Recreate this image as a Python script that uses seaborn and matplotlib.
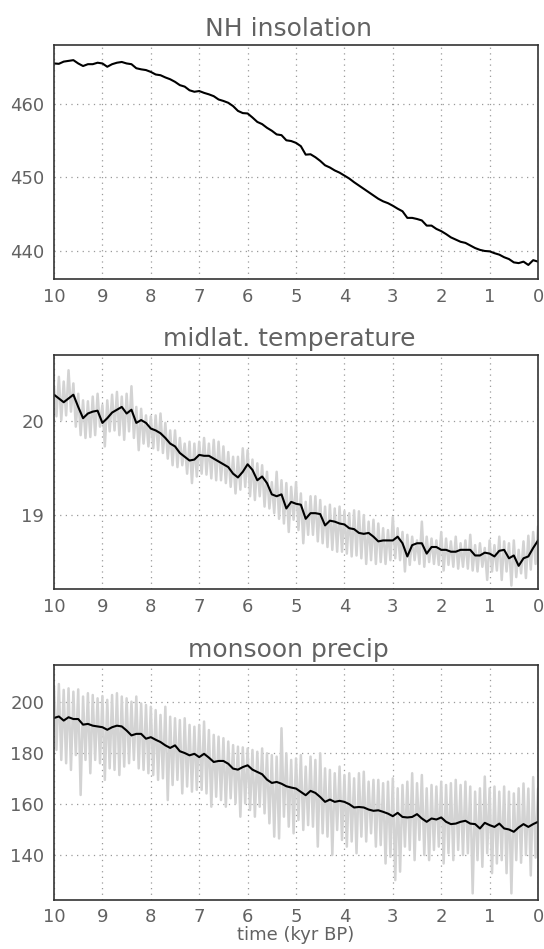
import matplotlib
matplotlib.use('Agg')
import matplotlib.pyplot as plt
import numpy as np
import pandas as pd
import seaborn as sns

# time axis (kyr BP), 0.1 kyr steps for the smoothed curves
time_kyr = np.round(np.arange(10.0, -0.05, -0.1), 2)

insolation = [
    465.45, 465.4, 465.7, 465.8, 465.9, 465.45, 465.1, 465.35, 465.35, 465.55,
    465.45, 465.0, 465.35, 465.55, 465.65, 465.45, 465.35, 464.8, 464.65, 464.55,
    464.3, 463.95, 463.85, 463.55, 463.3, 462.95, 462.5, 462.3, 461.8, 461.6,
    461.7, 461.45, 461.25, 461.0, 460.55, 460.35, 460.1, 459.65, 459.0, 458.7,
    458.65, 458.1, 457.5, 457.2, 456.7, 456.3, 455.8, 455.7, 455.0, 454.9,
    454.65, 454.2, 453.05, 453.1, 452.7, 452.2, 451.6, 451.3, 450.9, 450.6,
    450.2, 449.8, 449.3, 448.85, 448.4, 447.95, 447.5, 447.05, 446.7, 446.45,
    446.1, 445.7, 445.35, 444.45, 444.45, 444.3, 444.1, 443.4, 443.4, 442.95,
    442.65, 442.25, 441.8, 441.5, 441.2, 441.05, 440.7, 440.35, 440.1, 439.95,
    439.9, 439.65, 439.45, 439.1, 438.85, 438.4, 438.3, 438.5, 438.05, 438.7,
    438.5,
]

temp_smooth = [
    20.28, 20.24, 20.20, 20.24, 20.28, 20.15, 20.03, 20.08, 20.10, 20.11,
    19.98, 20.03, 20.09, 20.12, 20.15, 20.08, 20.12, 19.98, 20.01, 19.98,
    19.92, 19.90, 19.87, 19.82, 19.76, 19.73, 19.66, 19.62, 19.58, 19.59,
    19.64, 19.63, 19.63, 19.60, 19.57, 19.54, 19.51, 19.44, 19.40, 19.46,
    19.54, 19.48, 19.37, 19.41, 19.34, 19.22, 19.20, 19.22, 19.07, 19.14,
    19.12, 19.11, 18.96, 19.02, 19.02, 19.01, 18.89, 18.94, 18.93, 18.91,
    18.90, 18.86, 18.85, 18.81, 18.80, 18.81, 18.77, 18.72, 18.73, 18.73,
    18.73, 18.77, 18.70, 18.56, 18.68, 18.70, 18.70, 18.59, 18.66, 18.66,
    18.63, 18.63, 18.61, 18.61, 18.63, 18.63, 18.63, 18.57, 18.57, 18.60,
    18.59, 18.56, 18.62, 18.63, 18.54, 18.57, 18.46, 18.54, 18.56, 18.65,
    18.73,
]

# raw (unsmoothed) temperature: peaks at 10.0, 9.9, ... and troughs at 9.95, 9.85, ...
temp_raw_hi = [
    20.37, 20.47, 20.42, 20.54, 20.40, 20.29, 20.22, 20.21, 20.26, 20.29,
    20.17, 20.22, 20.28, 20.31, 20.26, 20.29, 20.37, 20.15, 20.13, 20.06,
    20.05, 20.06, 20.08, 19.98, 19.90, 19.90, 19.82, 19.76, 19.78, 19.76,
    19.78, 19.82, 19.76, 19.80, 19.78, 19.73, 19.67, 19.62, 19.62, 19.71,
    19.69, 19.59, 19.55, 19.53, 19.46, 19.35, 19.46, 19.37, 19.34, 19.30,
    19.35, 19.23, 19.14, 19.20, 19.20, 19.16, 19.09, 19.11, 19.07, 19.09,
    19.04, 19.02, 19.05, 19.04, 19.00, 18.93, 18.95, 18.91, 18.86, 18.84,
    18.98, 18.86, 18.82, 18.79, 18.77, 18.73, 18.93, 18.77, 18.75, 18.73,
    18.82, 18.75, 18.72, 18.77, 18.70, 18.73, 18.79, 18.68, 18.70, 18.65,
    18.73, 18.68, 18.77, 18.72, 18.70, 18.73, 18.63, 18.72, 18.78, 18.82,
    18.88,
]
temp_raw_lo = [
    20.05, 20.01, 20.06, 20.10, 19.94, 19.85, 19.82, 19.83, 19.85, 19.94,
    19.73, 19.89, 19.90, 19.85, 19.80, 19.89, 19.82, 19.69, 19.76, 19.73,
    19.71, 19.69, 19.66, 19.60, 19.53, 19.51, 19.53, 19.44, 19.34, 19.41,
    19.44, 19.43, 19.39, 19.37, 19.37, 19.34, 19.30, 19.23, 19.27, 19.30,
    19.20, 19.16, 19.20, 19.09, 19.07, 19.02, 18.96, 18.91, 18.82, 18.95,
    18.84, 18.70, 18.79, 18.79, 18.72, 18.70, 18.66, 18.63, 18.61, 18.61,
    18.59, 18.56, 18.57, 18.54, 18.48, 18.52, 18.48, 18.50, 18.48, 18.52,
    18.54, 18.52, 18.40, 18.47, 18.52, 18.48, 18.45, 18.50, 18.48, 18.47,
    18.41, 18.47, 18.45, 18.43, 18.45, 18.43, 18.41, 18.40, 18.45, 18.31,
    18.40, 18.41, 18.31, 18.40, 18.25, 18.34, 18.38, 18.33, 18.42, 18.48,
]

precip_smooth = [
    193.6, 194.2, 192.6, 193.9, 193.2, 193.2, 191.0, 191.3, 190.6, 190.3,
    190.0, 189.0, 190.0, 190.6, 190.3, 188.7, 186.8, 187.4, 187.4, 185.5,
    186.1, 185.1, 184.2, 182.9, 181.9, 182.9, 180.6, 179.9, 179.0, 179.6,
    178.3, 179.6, 178.1, 176.4, 176.8, 176.8, 175.7, 173.8, 173.4, 174.4,
    175.1, 173.4, 172.5, 171.6, 169.5, 168.2, 168.6, 167.9, 166.9, 166.4,
    166.0, 164.7, 163.4, 165.1, 164.3, 162.7, 160.8, 161.7, 160.8, 161.2,
    160.8, 159.9, 158.6, 158.8, 158.6, 157.8, 157.3, 157.5, 156.9, 156.2,
    155.2, 156.5, 154.9, 154.7, 154.9, 156.0, 154.3, 153.0, 154.3, 153.9,
    154.7, 153.0, 152.1, 152.3, 153.0, 153.4, 152.3, 152.1, 150.4, 152.6,
    151.7, 151.0, 152.3, 150.4, 150.0, 149.1, 150.8, 152.1, 151.0, 152.1,
    153.0,
]

precip_raw_hi = [
    205.9, 206.9, 204.6, 205.2, 203.9, 204.8, 202.0, 203.3, 202.6, 201.3,
    202.2, 200.7, 202.6, 203.3, 202.0, 201.3, 200.0, 202.0, 199.3, 198.7,
    198.0, 196.7, 194.8, 198.0, 194.1, 193.5, 192.8, 193.5, 190.9, 190.2,
    190.9, 192.2, 188.9, 187.0, 186.3, 185.7, 184.4, 183.0, 182.4, 182.1,
    181.7, 181.1, 180.4, 181.7, 179.8, 179.1, 178.5, 189.6, 179.8, 177.2,
    177.8, 179.1, 174.6, 178.5, 177.2, 179.8, 173.9, 173.3, 172.0, 174.6,
    171.3, 172.0, 170.0, 172.0, 172.6, 168.7, 169.4, 169.4, 168.1, 168.7,
    170.0, 166.1, 167.4, 168.7, 172.0, 168.1, 171.3, 166.1, 167.4, 166.8,
    168.7, 167.4, 168.1, 169.4, 167.4, 168.7, 166.8, 164.8, 166.1, 170.7,
    166.1, 166.8, 164.8, 166.8, 164.8, 164.1, 166.1, 168.0, 166.0, 170.5,
    166.0,
]
precip_raw_lo = [
    181.1, 177.2, 175.9, 173.3, 179.1, 163.5, 177.2, 172.0, 177.2, 175.9,
    169.4, 173.9, 173.3, 171.3, 174.6, 175.9, 177.2, 173.9, 173.3, 172.0,
    171.3, 169.4, 170.0, 161.5, 167.4, 169.4, 164.1, 166.8, 164.8, 165.5,
    165.5, 164.1, 158.9, 162.8, 161.5, 158.9, 162.2, 160.2, 155.0, 160.2,
    157.6, 155.0, 158.9, 156.3, 152.4, 147.2, 146.5, 155.0, 151.1, 148.5,
    153.7, 149.8, 151.7, 151.1, 143.3, 148.5, 147.2, 140.0, 149.8, 145.9,
    143.3, 145.3, 140.7, 147.2, 145.3, 148.5, 143.3, 143.9, 136.7, 139.3,
    130.2, 133.5, 143.3, 142.0, 138.0, 145.9, 140.0, 138.0, 142.0, 143.3,
    136.7, 140.7, 138.0, 142.0, 140.0, 140.7, 125.0, 138.0, 135.4, 140.7,
    132.9, 136.7, 138.0, 132.9, 125.0, 138.0, 137.0, 140.0, 132.0, 139.0,
]

titles = ['NH insolation', 'midlat. temperature', 'monsoon precip']
y_limits = [(436.1, 468.0), (18.21, 20.705), (122.4, 214.2)]
y_ticks = [[440, 450, 460], [19, 20], [140, 160, 180, 200]]


def raw_frame(hi, lo):
    # interleave peaks and troughs, troughs sit half a step after the peaks
    t = np.empty(len(hi) + len(lo))
    v = np.empty(len(hi) + len(lo))
    t[0::2] = time_kyr
    t[1::2] = time_kyr[:-1] - 0.05
    v[0::2] = hi
    v[1::2] = lo
    return pd.DataFrame({'time': t, 'value': v})


sns.set_style('white')
plt.rcParams['font.family'] = ['DejaVu Sans']
text_color = '#626262'

fig = plt.figure(figsize=(5.44, 9.49), dpi=100)
axes_boxes = [
    [0.0993, 0.7057, 0.8897, 0.2472],
    [0.0993, 0.3790, 0.8897, 0.2472],
    [0.0993, 0.0516, 0.8897, 0.2473],
]
axes = [fig.add_axes(box) for box in axes_boxes]

smooth_series = [insolation, temp_smooth, precip_smooth]
raw_series = [None, raw_frame(temp_raw_hi, temp_raw_lo), raw_frame(precip_raw_hi, precip_raw_lo)]

for i, ax in enumerate(axes):
    if raw_series[i] is not None:
        sns.lineplot(data=raw_series[i], x='time', y='value', ax=ax,
                     color='#d3d3d3', linewidth=1.8, sort=False, estimator=None)
    sm = pd.DataFrame({'time': time_kyr, 'value': smooth_series[i]})
    sns.lineplot(data=sm, x='time', y='value', ax=ax, color='black',
                 linewidth=1.5, sort=False, estimator=None)

    ax.set_xlim(10, 0)
    ax.set_ylim(*y_limits[i])
    ax.set_xticks(range(0, 11))
    ax.set_yticks(y_ticks[i])
    ax.grid(True, color='#9a9a9a', linestyle=(0, (1, 3.5)), linewidth=0.9)
    ax.set_axisbelow(True)
    for side in ax.spines.values():
        side.set_color('#333333')
        side.set_linewidth(1.2)
        side.set_visible(True)
    ax.tick_params(axis='both', direction='out', length=4, width=1,
                   color='#333333', labelsize=13, labelcolor=text_color)
    ax.tick_params(axis='x', pad=2)
    ax.tick_params(axis='y', pad=3)
    ax.set_title(titles[i], fontsize=18, color=text_color, pad=6, x=0.485)
    ax.set_ylabel('')
    ax.set_xlabel('')

axes[2].set_xlabel('time (kyr BP)', fontsize=13, color=text_color, labelpad=0)

fig.savefig('out.png', dpi=100)
